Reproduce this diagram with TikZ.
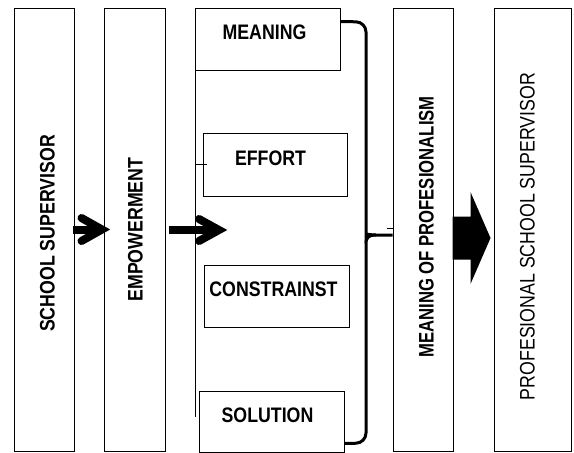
\documentclass[tikz,border=0pt]{standalone}
\usepackage{fontspec}
\setmainfont{Liberation Sans}[FakeStretch=0.845]
\usetikzlibrary{calc}
\begin{document}
\begin{tikzpicture}[x=1pt,y=-1pt,
  box/.style={draw, line width=1pt, inner sep=0pt, font=\fontsize{21}{24}\selectfont\bfseries},
  vbox/.style={box, rotate=90, minimum width=443pt},
  hbox/.style={box, minimum width=145pt, text height=15pt, text depth=14pt},
  shaft/.style={line width=8pt},
  chev/.style={line width=8pt, line cap=round, line join=miter},
  bracestroke/.style={line width=3pt}]
\useasboundingbox (0,0) rectangle (574,453);

% tall boxes
\node[vbox, minimum height=60pt, text height=21pt, text depth=0pt] (b1) at (44,229.5) {SCHOOL SUPERVISOR\kern8pt};
\node[vbox, minimum height=61pt, text height=16pt, text depth=0pt] (b2) at (134.5,229.5) {EMPOWERMENT};
\node[vbox, minimum height=60pt, text height=21pt, text depth=0pt] (b4) at (423,229.5) {\kern5pt\scalebox{0.94}[1]{MEANING OF PROFESIONALISM}};
\node[vbox, minimum height=77pt, text height=15pt, text depth=11pt, font=\fontsize{21}{24}\selectfont] (b5) at (532.5,229.5) {PROFESIONAL SCHOOL SUPERVISOR\kern14pt};

% group of four boxes
\node[hbox, minimum height=62pt] (m) at (267.5,39) {MEANING\kern6pt};
\node[hbox, minimum width=144pt, minimum height=63pt] (e) at (275,164.5) {EFFORT\kern9pt};
\node[hbox, minimum height=62pt] (c) at (276.5,296) {CONSTRAINST\kern6pt};
\node[hbox, minimum height=61pt] (s) at (271.5,421.5) {SOLUTION\kern8pt};

% vertical bar of the group
\coordinate (vt) at (195,40);
\coordinate (vb) at (195,417);
\draw[line width=1pt] (vt) -- (vb);
\draw[line width=1pt] (vt |- e.west) -- ([xshift=4pt]e.west);

% arrow 1
\coordinate (t1) at ($(b2.north)+(-1.5,0)$);
\draw[shaft] ($(b1.south)+(-2,0)$) -- (t1);
\draw[chev] ($(t1)+(-20.5,-11.5)$) -- (t1) -- ($(t1)+(-20.5,11.5)$);

% arrow 2
\coordinate (t2) at ($(vt |- b2.south)+(24,0.5)$);
\draw[shaft] ($(b2.south)+(3,0.5)$) -- (t2);
\draw[chev] ($(t2)+(-20,-11)$) -- (t2) -- ($(t2)+(-20,11)$);

% brace
\draw[bracestroke] ([yshift=-14pt]m.north east) [rounded corners=10pt] -- (366,22) -- (366,226)
  [sharp corners] .. controls (366,233) and (369,235) .. (376,235) -- (b4.north |- 0,235);
\draw[bracestroke] (376,235) .. controls (369,235) and (366,237) .. (366,244)
  [rounded corners=10pt] -- (366,443) -- ([yshift=9pt]s.south east);
\draw[line width=0.8pt] (387,228) -- (b4.north |- 0,228);

% block arrow
\coordinate (ba) at ($(b4.south)+(-1,0)$);
\coordinate (bt) at ($(b5.north)+(-3,8.5)$);
\fill ($(ba)+(0,-13)$) -- ($(ba)+(18,-13)$) -- ($(ba)+(18,-37.5)$) -- (bt)
  -- ($(ba)+(18,54.5)$) -- ($(ba)+(18,30)$) -- ($(ba)+(0,30)$) -- cycle;
\end{tikzpicture}
\end{document}
